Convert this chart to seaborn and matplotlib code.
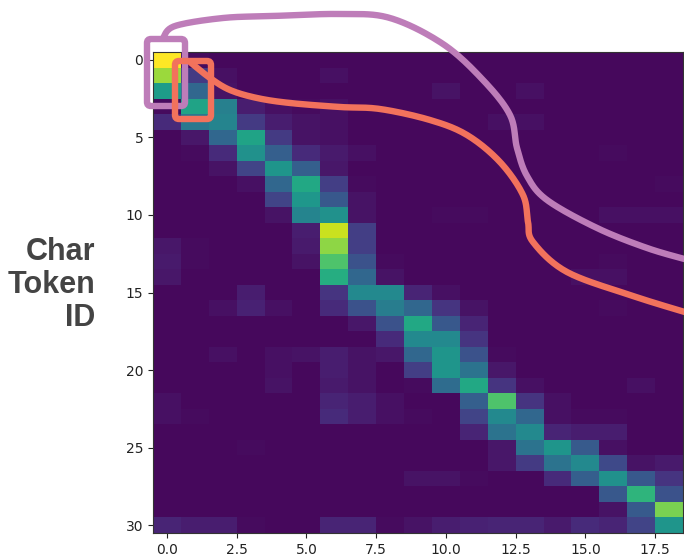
import numpy as np
import matplotlib
matplotlib.use("Agg")
import matplotlib.pyplot as plt
from matplotlib.patches import FancyBboxPatch
from matplotlib.lines import Line2D
from matplotlib.transforms import IdentityTransform
import seaborn as sns

# attention weights: rows = char token id (0..30), columns = position (0..18)
weights = [
    [1.00,.03,.02,.02,.02,.02,.02,.02,.02,.02,.02,.02,.02,.02,.02,.02,.02,.02,.02],
    [.85,.17,.04,.02,.02,.02,.04,.02,.02,.02,.02,.02,.02,.02,.02,.02,.02,.02,.02],
    [.55,.33,.05,.02,.02,.02,.02,.02,.02,.02,.05,.02,.02,.04,.02,.02,.02,.02,.02],
    [.03,.58,.43,.08,.04,.03,.04,.02,.02,.02,.02,.02,.02,.02,.02,.02,.02,.02,.02],
    [.12,.40,.45,.17,.08,.05,.04,.02,.02,.02,.02,.02,.04,.04,.02,.02,.02,.02,.02],
    [.02,.06,.33,.58,.17,.05,.04,.02,.02,.02,.02,.02,.02,.02,.02,.02,.02,.02,.02],
    [.02,.03,.12,.50,.30,.12,.07,.04,.02,.02,.02,.02,.02,.02,.02,.02,.03,.02,.02],
    [.02,.02,.05,.20,.52,.30,.06,.02,.02,.02,.02,.02,.02,.02,.02,.02,.02,.02,.02],
    [.02,.02,.02,.04,.33,.60,.18,.03,.02,.02,.02,.02,.02,.02,.02,.02,.02,.02,.03],
    [.02,.02,.02,.02,.20,.53,.27,.05,.02,.02,.02,.02,.02,.02,.02,.02,.02,.02,.02],
    [.02,.02,.02,.02,.05,.45,.50,.05,.02,.02,.03,.03,.02,.02,.02,.02,.04,.04,.04],
    [.02,.02,.02,.02,.02,.08,.92,.18,.02,.02,.02,.02,.02,.02,.02,.02,.02,.02,.02],
    [.06,.03,.02,.02,.02,.07,.83,.18,.02,.02,.02,.02,.02,.02,.02,.02,.02,.02,.02],
    [.07,.03,.02,.02,.02,.05,.72,.25,.03,.02,.02,.02,.02,.02,.02,.02,.03,.02,.02],
    [.06,.02,.02,.02,.02,.02,.62,.33,.05,.02,.02,.02,.02,.02,.02,.04,.04,.02,.02],
    [.02,.02,.02,.08,.02,.02,.15,.47,.47,.10,.04,.02,.02,.02,.02,.02,.02,.02,.02],
    [.02,.02,.04,.09,.04,.02,.12,.25,.42,.33,.15,.05,.02,.02,.02,.02,.03,.02,.02],
    [.02,.02,.02,.02,.02,.02,.02,.06,.25,.60,.27,.10,.02,.02,.02,.02,.02,.02,.02],
    [.02,.02,.02,.02,.02,.02,.02,.02,.12,.47,.47,.15,.02,.02,.02,.02,.02,.02,.02],
    [.02,.02,.04,.02,.04,.05,.08,.05,.06,.33,.52,.25,.03,.02,.02,.02,.02,.02,.02],
    [.02,.02,.02,.02,.04,.02,.08,.05,.02,.18,.52,.38,.06,.02,.02,.02,.02,.02,.02],
    [.02,.02,.02,.02,.05,.02,.07,.05,.02,.03,.35,.60,.15,.04,.02,.02,.02,.04,.02],
    [.04,.02,.02,.02,.02,.02,.10,.08,.04,.02,.02,.30,.72,.15,.04,.02,.02,.02,.02],
    [.04,.03,.02,.02,.02,.02,.12,.08,.04,.03,.02,.20,.47,.33,.04,.03,.03,.02,.02],
    [.02,.02,.02,.02,.02,.02,.02,.02,.02,.02,.02,.10,.38,.47,.10,.08,.08,.02,.02],
    [.02,.02,.02,.03,.02,.02,.02,.02,.02,.02,.02,.02,.06,.38,.52,.28,.04,.02,.02],
    [.02,.02,.02,.02,.02,.02,.02,.02,.02,.02,.02,.02,.06,.17,.38,.47,.22,.05,.07],
    [.02,.02,.02,.02,.02,.02,.02,.02,.02,.05,.05,.03,.02,.02,.12,.30,.50,.27,.15],
    [.02,.02,.02,.02,.02,.02,.02,.02,.02,.02,.02,.02,.02,.02,.02,.02,.27,.65,.25],
    [.02,.02,.02,.02,.02,.02,.02,.02,.02,.02,.02,.02,.02,.02,.02,.02,.05,.28,.80],
    [.10,.08,.08,.03,.02,.02,.10,.10,.03,.05,.08,.09,.10,.10,.07,.12,.10,.20,.52],
]
x_tick_values = [0.0, 2.5, 5.0, 7.5, 10.0, 12.5, 15.0, 17.5]
x_tick_labels = ["0.0", "2.5", "5.0", "7.5", "10.0", "12.5", "15.0", "17.5"]
y_tick_values = [0, 5, 10, 15, 20, 25, 30]
y_tick_labels = ["0", "5", "10", "15", "20", "25", "30"]
side_label = "Char\nToken\nID"

W, H = 684, 560
fig = plt.figure(figsize=(W / 100, H / 100), dpi=100)
ax = fig.add_axes([153 / W, 1 - 533 / H, (683 - 153) / W, (533 - 52) / H])

data = np.array(weights)
sns.heatmap(data, ax=ax, cmap="viridis", vmin=0, vmax=1, cbar=False,
            xticklabels=False, yticklabels=False)
ax.set_xticks(np.array(x_tick_values) + 0.5)
ax.set_xticklabels(x_tick_labels, rotation=0)
ax.set_yticks(np.array(y_tick_values) + 0.5)
ax.set_yticklabels(y_tick_labels, rotation=0)
ax.tick_params(length=3.5, width=0.8, labelsize=10, colors="#222222")
for s in ax.spines.values():
    s.set_visible(True)
    s.set_linewidth(0.8)
    s.set_color("#333333")

fig.text(95 / W, 1 - 285 / H, side_label, ha="right", va="center",
         multialignment="right", fontsize=22, fontweight="bold",
         family=["Liberation Sans", "DejaVu Sans"], color="#444444",
         linespacing=1.15)

# ---- annotation overlay (pixel coordinates, top-left origin) ----
PURPLE = "#be7db9"
ORANGE = "#f2725c"
LW = 4.6


def disp(x, y):
    return x, H - y


def catmull(pts, n=20):
    P = np.array(pts, float)
    P = np.vstack([P[0], P, P[-1]])
    out = []
    t = np.linspace(0, 1, n, endpoint=False)[:, None]
    for i in range(1, len(P) - 2):
        p0, p1, p2, p3 = P[i - 1], P[i], P[i + 1], P[i + 2]
        out.append(0.5 * ((2 * p1) + (-p0 + p2) * t
                          + (2 * p0 - 5 * p1 + 4 * p2 - p3) * t ** 2
                          + (-p0 + 3 * p1 - 3 * p2 + p3) * t ** 3))
    out.append(P[-2][None])
    return np.vstack(out)


def rrect(x0, y0, x1, y1, color):
    bx, by = disp(x0, y1)
    p = FancyBboxPatch((bx, by), x1 - x0, y1 - y0,
                       boxstyle="round,pad=0,rounding_size=4",
                       transform=IdentityTransform(), fill=False,
                       edgecolor=color, linewidth=LW, clip_on=False, zorder=10)
    fig.add_artist(p)


def curve(pts, color):
    c = catmull(pts)
    ln = Line2D(c[:, 0], H - c[:, 1], transform=IdentityTransform(),
                color=color, linewidth=LW, solid_capstyle="butt",
                solid_joinstyle="round", clip_on=False, zorder=11)
    fig.add_artist(ln)


purple_path = [(163, 38), (175, 26), (223, 18), (273, 16), (340, 14), (390, 18),
               (443, 44), (483, 80), (510, 115), (517, 148), (527, 176),
               (547, 200), (597, 228), (647, 248), (688, 260)]
orange_path = [(190, 62), (210, 78), (230, 90), (257, 98), (290, 103), (340, 107),
               (380, 109), (430, 120), (467, 135), (500, 162), (523, 195),
               (528, 222), (533, 242), (567, 272), (633, 296), (688, 313)]

rrect(147, 39, 185, 106, PURPLE)
rrect(175, 61, 211, 119, ORANGE)
curve(purple_path, PURPLE)
curve(orange_path, ORANGE)

fig.savefig("out.png", dpi=100)
